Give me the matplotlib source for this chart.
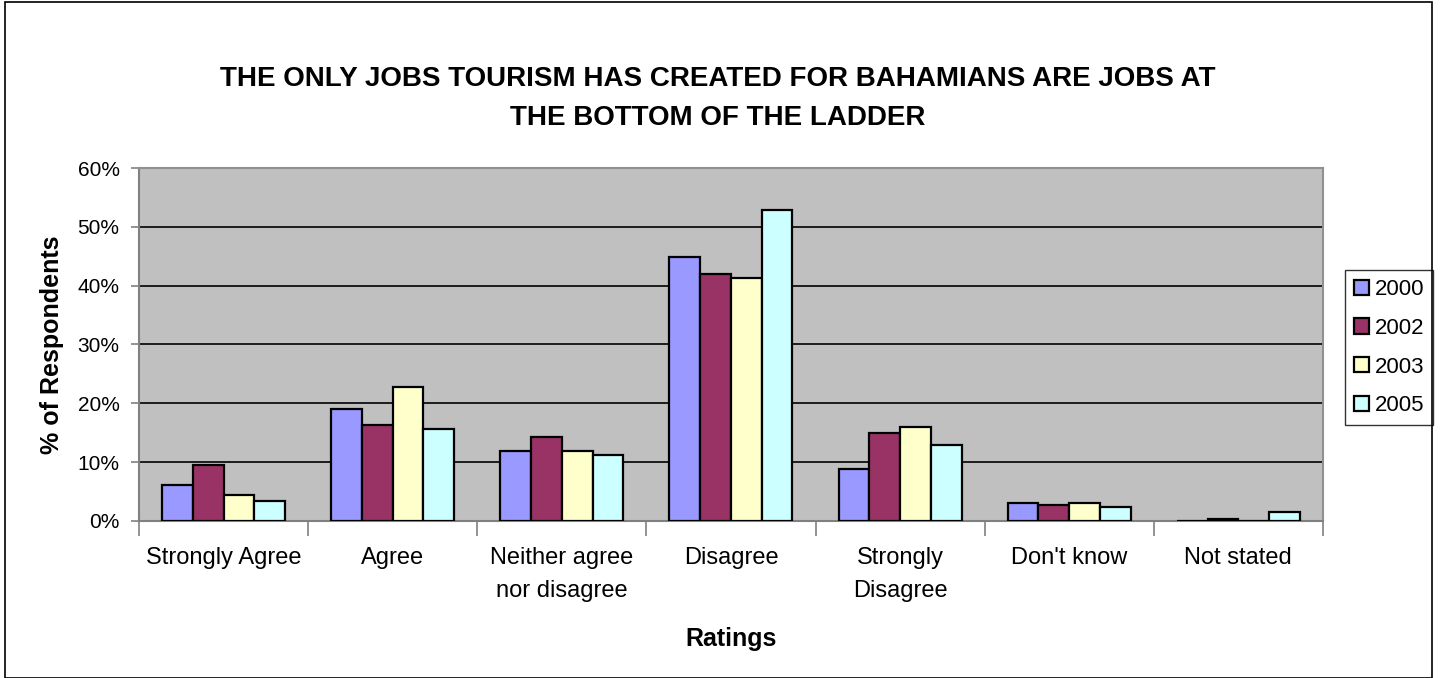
import matplotlib
matplotlib.use("Agg")
import matplotlib.pyplot as plt
import numpy as np
from matplotlib.patches import Rectangle
from matplotlib.ticker import FixedLocator, MultipleLocator, PercentFormatter

CATEGORIES = [
    "Strongly Agree",
    "Agree",
    "Neither agree\nnor disagree",
    "Disagree",
    "Strongly\nDisagree",
    "Don't know",
    "Not stated",
]
YEARS = ["2000", "2002", "2003", "2005"]
VALUES_2000 = [6.1, 19.1, 11.9, 44.9, 8.8, 3.1, 0.0]
VALUES_2002 = [9.5, 16.3, 14.3, 41.9, 14.9, 2.7, 0.4]
VALUES_2003 = [4.4, 22.8, 11.9, 41.3, 16.0, 3.1, 0.0]
VALUES_2005 = [3.4, 15.7, 11.2, 52.8, 12.9, 2.3, 1.5]
COLORS = ["#9999FF", "#993366", "#FFFFCC", "#CCFFFF"]

plt.rcParams["font.family"] = ["Liberation Sans", "DejaVu Sans"]

fig = plt.figure(figsize=(14.4, 6.78), dpi=100)
ax = fig.add_axes([0.0965, 0.2316, 0.8222, 0.5206])
ax.set_facecolor("#C0C0C0")

series = [VALUES_2000, VALUES_2002, VALUES_2003, VALUES_2005]
n = len(CATEGORIES)
x = np.arange(n)
width = 1 / 5.5
for i, (vals, year, color) in enumerate(zip(series, YEARS, COLORS)):
    offs = (i - 1.5) * width
    ax.bar(x + offs, vals, width=width, color=color, edgecolor="black",
           linewidth=1.6, label=year, zorder=3)

ax.set_xlim(-0.5, n - 0.5)
ax.set_ylim(0, 60)
ax.yaxis.set_major_locator(MultipleLocator(10))
ax.yaxis.set_major_formatter(PercentFormatter(decimals=0))
ax.grid(axis="y", color="black", linewidth=1.2, zorder=1)
ax.set_axisbelow(True)

ax.set_xticks(x)
ax.set_xticklabels(CATEGORIES, fontsize=17, linespacing=1.6)
ax.xaxis.set_minor_locator(FixedLocator(np.arange(-0.5, n, 1.0)))
ax.tick_params(axis="x", which="major", length=0, pad=19)
ax.tick_params(axis="x", which="minor", length=11, width=1.2, color="#808080")
ax.tick_params(axis="y", length=6, width=1.2, color="#808080", labelsize=15, pad=8)

for side in ["left", "bottom"]:
    ax.spines[side].set_color("#808080")
    ax.spines[side].set_linewidth(1.5)
for side in ["top", "right"]:
    ax.spines[side].set_color("#909090")
    ax.spines[side].set_linewidth(1.5)

ax.set_ylabel("% of Respondents", fontsize=18, fontweight="bold", labelpad=10)
ax.set_xlabel("Ratings", fontsize=18, fontweight="bold", labelpad=18)

fig.text(0.4985, 0.855,
         "THE ONLY JOBS TOURISM HAS CREATED FOR BAHAMIANS ARE JOBS AT\nTHE BOTTOM OF THE LADDER",
         ha="center", va="center", fontsize=20, fontweight="bold", linespacing=1.65)

leg = ax.legend(loc="center left", bbox_to_anchor=(1.0185, 0.491), fontsize=16,
                frameon=True, fancybox=False, edgecolor="black",
                handlelength=0.68, handleheight=0.68, handletextpad=0.28,
                labelspacing=0.8, borderpad=0.4, borderaxespad=0)
leg.get_frame().set_linewidth(1.0)

# outer chart border
fig.patches.append(Rectangle((5 / 1440, 0.0), 1427 / 1440, 0.997,
                             transform=fig.transFigure, fill=False,
                             edgecolor="black", linewidth=1.2))

fig.savefig("out.png", dpi=100)
